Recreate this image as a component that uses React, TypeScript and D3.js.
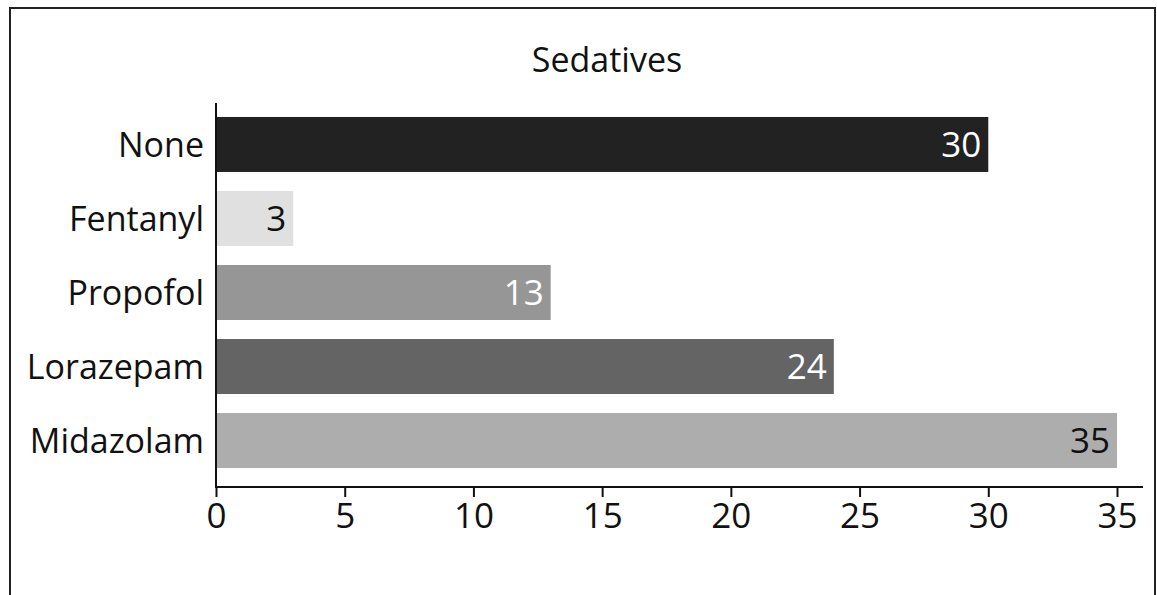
import React, { useEffect, useRef } from "react";
import * as d3 from "d3";

const categories: string[] = ["None", "Fentanyl", "Propofol", "Lorazepam", "Midazolam"];
const values: number[] = [30, 3, 13, 24, 35];
const barColors: string[] = ["#222222", "#e0e0e0", "#969696", "#646464", "#adadad"];
const labelColors: string[] = ["#ffffff", "#111111", "#ffffff", "#ffffff", "#111111"];
const xTicks: number[] = [0, 5, 10, 15, 20, 25, 30, 35];

const font = "'Open Sans', 'Noto Sans', sans-serif";

const App = () => {
  const ref = useRef<SVGSVGElement | null>(null);
  const width = 1157;
  const height = 595;

  useEffect(() => {
    const svg = d3.select(ref.current);
    svg.selectAll("*").remove();

    // frame
    svg
      .append("rect")
      .attr("x", 10)
      .attr("y", 8)
      .attr("width", 1145)
      .attr("height", 620)
      .attr("fill", "white")
      .attr("stroke", "#222")
      .attr("stroke-width", 2);

    const x = d3.scaleLinear().domain([0, 35]).range([216, 1117]);
    const y = d3
      .scaleBand()
      .domain(categories)
      .range([107.5, 477.5])
      .paddingInner(0.257)
      .paddingOuter(0.128);

    svg
      .append("text")
      .attr("x", 607)
      .attr("y", 72)
      .attr("text-anchor", "middle")
      .style("font-family", font)
      .style("font-size", "34px")
      .attr("fill", "#111")
      .text("Sedatives");

    // bars
    svg
      .selectAll(".bar")
      .data(values)
      .enter()
      .append("rect")
      .attr("x", x(0))
      .attr("y", (d, i) => y(categories[i]) as number)
      .attr("width", (d) => x(d) - x(0))
      .attr("height", y.bandwidth())
      .attr("fill", (d, i) => barColors[i]);

    // value labels
    svg
      .selectAll(".val")
      .data(values)
      .enter()
      .append("text")
      .attr("x", (d) => x(d) - 7)
      .attr("y", (d, i) => (y(categories[i]) as number) + y.bandwidth() / 2)
      .attr("dy", "0.36em")
      .attr("text-anchor", "end")
      .style("font-family", font)
      .style("font-size", "35px")
      .attr("fill", (d, i) => labelColors[i])
      .text((d) => d);

    // category labels
    svg
      .selectAll(".cat")
      .data(categories)
      .enter()
      .append("text")
      .attr("x", 204)
      .attr("y", (d) => (y(d) as number) + y.bandwidth() / 2)
      .attr("dy", "0.36em")
      .attr("text-anchor", "end")
      .style("font-family", font)
      .style("font-size", "34px")
      .attr("fill", "#111")
      .text((d) => d);

    // y axis line
    svg
      .append("line")
      .attr("x1", x(0))
      .attr("x2", x(0))
      .attr("y1", 103)
      .attr("y2", 488)
      .attr("stroke", "#111")
      .attr("stroke-width", 2);

    // x axis
    const axis = svg
      .append("g")
      .attr("transform", "translate(0,487)")
      .call(d3.axisBottom(x).tickValues(xTicks).tickSize(10).tickSizeOuter(0).tickPadding(6));
    axis.select(".domain").attr("d", `M${x(0)},0H1143`).attr("stroke", "#111").attr("stroke-width", 2);
    axis.selectAll(".tick line").attr("stroke", "#111").attr("stroke-width", 2);
    axis
      .selectAll(".tick text")
      .style("font-family", font)
      .style("font-size", "35px")
      .attr("fill", "#111");
  }, []);

  return (
    <svg
      ref={ref}
      width={width}
      height={height}
      style={{ position: "absolute", left: 0, top: 0, background: "white" }}
    ></svg>
  );
};

export default App;
